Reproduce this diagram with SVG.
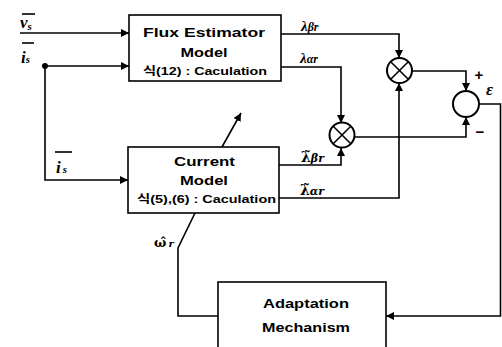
<svg xmlns="http://www.w3.org/2000/svg" width="502" height="347" viewBox="0 0 502 347">
<style>
.box{fill:#fff;stroke:#000;stroke-width:1.6}
.ln{fill:none;stroke:#000;stroke-width:1.6}
.circ{fill:#fff;stroke:#000;stroke-width:2}
.t{font-family:"Liberation Sans","Noto Sans CJK KR",sans-serif;font-weight:bold;fill:#000;text-anchor:middle}
.lb{font-family:"Liberation Serif","DejaVu Serif",serif;font-weight:bold;font-style:italic;fill:#000}
.dj{font-family:"DejaVu Serif",serif;font-weight:bold;fill:#000}
</style>
<defs>
<marker id="ah" viewBox="0 0 10 10" refX="10" refY="5" markerWidth="8" markerHeight="8" markerUnits="userSpaceOnUse" orient="auto">
<path d="M0,0 L10,5 L0,10 z" fill="#000"/>
</marker>
</defs>
<rect width="502" height="347" fill="#fff"/>

<g id="connectors">
<line class="ln" x1="20" y1="33" x2="129" y2="33" marker-end="url(#ah)"/>
<line class="ln" x1="44" y1="66" x2="129" y2="66" marker-end="url(#ah)"/>
<circle cx="45" cy="66" r="3" fill="#000"/>
<polyline class="ln" points="45,66 45,180 128,180" marker-end="url(#ah)"/>
<polyline class="ln" points="281,34 399,34 399,58" marker-end="url(#ah)"/>
<polyline class="ln" points="281,67 341,67 341,123" marker-end="url(#ah)"/>
<polyline class="ln" points="279,165 341,165 341,148" marker-end="url(#ah)"/>
<polyline class="ln" points="279,198 399,198 399,83" marker-end="url(#ah)"/>
<polyline class="ln" points="412,71 466,71 466,91" marker-end="url(#ah)"/>
<polyline class="ln" points="354,137 466,137 466,117" marker-end="url(#ah)"/>
<polyline class="ln" points="479,104 500.5,104 500.5,316 386,316" marker-end="url(#ah)"/>
<polyline class="ln" points="218,316 178,316 178,248 195,213"/>
<line class="ln" x1="222" y1="147" x2="241" y2="113" marker-end="url(#ah)"/>
</g>

<g id="flux-estimator">
<rect class="box" x="129" y="15" width="152" height="66"/>
<text class="t" x="204" y="37" font-size="13" textLength="122" lengthAdjust="spacingAndGlyphs">Flux Estimator</text>
<text class="t" x="204" y="57" font-size="13" textLength="47" lengthAdjust="spacingAndGlyphs">Model</text>
<text class="t" x="205" y="75" font-size="11" textLength="124" lengthAdjust="spacingAndGlyphs">식(12) : Caculation</text>
</g>

<g id="current-model">
<rect class="box" x="128" y="147" width="151" height="66"/>
<text class="t" x="204.5" y="166" font-size="13" textLength="61" lengthAdjust="spacingAndGlyphs">Current</text>
<text class="t" x="204" y="185" font-size="13" textLength="48" lengthAdjust="spacingAndGlyphs">Model</text>
<text class="t" x="206.5" y="203" font-size="11" textLength="139" lengthAdjust="spacingAndGlyphs">식(5),(6) : Caculation</text>
</g>

<g id="adaptation">
<rect class="box" x="218" y="282" width="168" height="80"/>
<text class="t" x="306" y="308" font-size="13" textLength="86" lengthAdjust="spacingAndGlyphs">Adaptation</text>
<text class="t" x="306" y="332" font-size="13" textLength="88" lengthAdjust="spacingAndGlyphs">Mechanism</text>
</g>

<g id="mult1">
<circle class="circ" cx="399.5" cy="70.5" r="12.5"/>
<line class="ln" x1="390.7" y1="61.7" x2="408.3" y2="79.3"/>
<line class="ln" x1="408.3" y1="61.7" x2="390.7" y2="79.3"/>
</g>
<g id="mult2">
<circle class="circ" cx="342" cy="135" r="12.5"/>
<line class="ln" x1="333.2" y1="126.2" x2="350.8" y2="143.8"/>
<line class="ln" x1="350.8" y1="126.2" x2="333.2" y2="143.8"/>
</g>
<g id="sum">
<circle class="circ" cx="466" cy="104" r="13"/>
<text class="t" x="479" y="80" font-size="15">+</text>
<text class="t" x="480" y="137" font-size="15">−</text>
<text class="lb" x="486" y="95" font-size="17" font-style="normal">ε</text>
</g>

<g id="labels">
<line class="ln" x1="22" y1="14" x2="35" y2="14"/>
<text class="lb" x="20" y="28" font-size="17">v<tspan font-size="11" dy="2">s</tspan></text>
<line class="ln" x1="22" y1="43" x2="34" y2="43"/>
<text class="lb" x="21" y="63" font-size="17">i<tspan font-size="11" dy="0">s</tspan></text>
<line class="ln" x1="55" y1="152" x2="72" y2="152"/>
<text class="lb" x="56" y="173" font-size="17">i<tspan font-size="11" dx="2">s</tspan></text>
<text class="lb" x="301" y="31" font-size="15" font-style="normal">λ<tspan font-size="12" font-style="italic">βr</tspan></text>
<text class="lb" x="300" y="63" font-size="15" font-style="normal">λ<tspan font-size="12" font-style="italic">αr</tspan></text>
<text class="dj" x="301" y="162" font-size="14">λ̃<tspan font-size="11" font-style="italic">βr</tspan></text>
<text class="dj" x="300" y="195" font-size="14">λ̃<tspan font-size="11" font-style="italic">αr</tspan></text>
<text class="dj" x="154" y="247" font-size="13">ω̂<tspan font-size="10" font-style="italic" dx="2">r</tspan></text>
</g>
</svg>
